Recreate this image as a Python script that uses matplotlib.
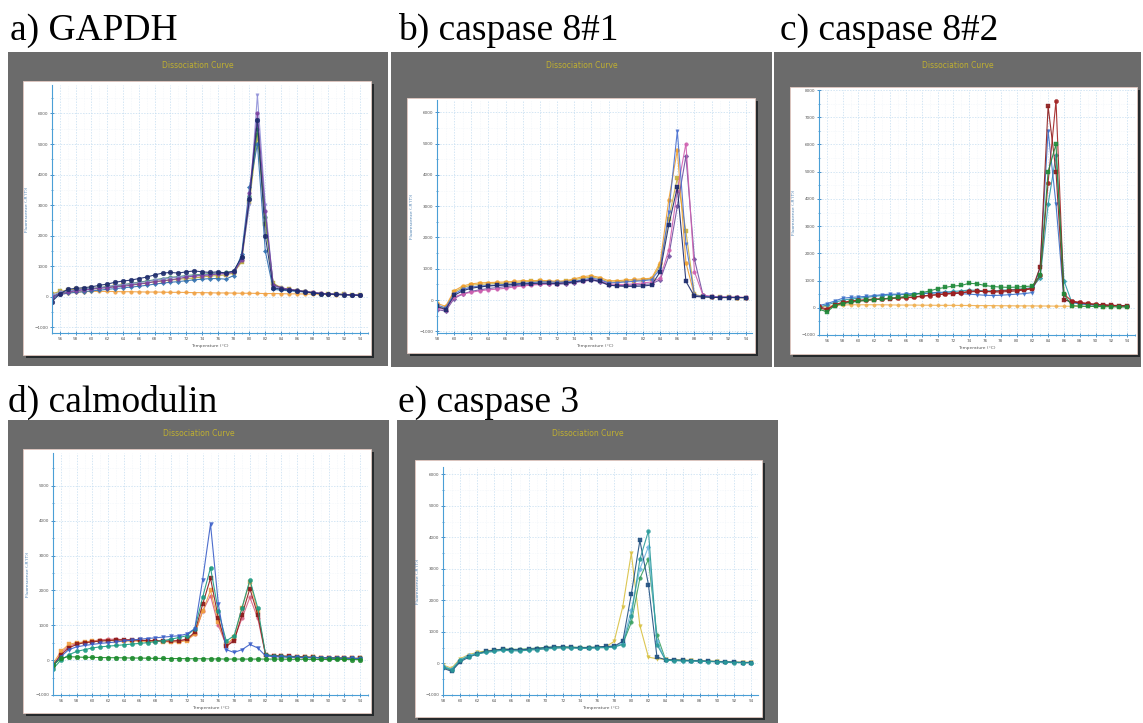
import matplotlib.pyplot as plt
import numpy as np
from matplotlib.patches import Rectangle
from matplotlib.ticker import MultipleLocator

# temperature steps (degC)
x_wide = list(range(55, 95))    # panels a, c, d
x_short = list(range(58, 95))   # panels b, e

# ---- a) GAPDH : -R'(T) per well ----
a_navy = [-150, 100, 250, 280, 300, 330, 380, 420, 480, 520, 550, 600, 650, 720, 780, 800, 780, 820, 850, 820,
          800, 820, 780, 850, 1300, 3200, 5800, 2000, 300, 250, 220, 200, 170, 130, 100, 90, 80, 70, 60, 50]
a_purple = [0, 100, 150, 200, 230, 250, 280, 300, 330, 350, 380, 420, 450, 500, 530, 560, 600, 650, 680, 700,
            720, 750, 760, 800, 1200, 3400, 6000, 2800, 400, 300, 250, 220, 180, 150, 120, 100, 90, 80, 70, 60]
a_lavender = [50, 150, 200, 220, 250, 280, 300, 330, 380, 400, 430, 470, 500, 550, 580, 620, 650, 680, 700, 720,
              740, 760, 780, 820, 1250, 3000, 6600, 3000, 350, 280, 240, 200, 170, 140, 110, 100, 90, 80, 70, 60]
a_olive = [100, 180, 220, 250, 260, 280, 300, 320, 350, 380, 400, 430, 460, 500, 520, 550, 580, 600, 620, 650,
           680, 700, 720, 780, 1150, 3100, 5300, 2400, 450, 300, 250, 200, 170, 140, 110, 100, 90, 80, 70, 60]
a_blue = [-50, 80, 120, 150, 170, 200, 220, 250, 270, 300, 320, 350, 380, 420, 450, 480, 500, 530, 560, 580,
          600, 600, 580, 700, 1400, 3600, 5000, 1500, 250, 220, 200, 180, 160, 130, 110, 90, 80, 70, 60, 50]
a_green = [20, 120, 180, 220, 250, 270, 300, 340, 370, 400, 440, 480, 520, 560, 600, 640, 660, 700, 720, 740,
           760, 780, 800, 830, 1300, 3300, 5500, 2600, 400, 280, 240, 210, 180, 140, 110, 100, 90, 80, 70, 60]
a_ntc = [0, 80, 130, 160, 170, 180, 180, 180, 175, 170, 170, 165, 160, 160, 155, 150, 150, 145, 140, 140,
         135, 130, 130, 125, 120, 120, 115, 110, 110, 105, 100, 100, 95, 90, 85, 80, 75, 70, 65, 60]

# ---- b) caspase 8#1 ----
b_navy = [-200, -300, 150, 300, 380, 420, 450, 470, 480, 500, 520, 530, 540, 540, 530, 550, 580, 620, 650,
          600, 480, 450, 440, 440, 450, 480, 900, 2400, 3600, 600, 120, 100, 90, 80, 80, 80, 80]
b_blue = [-150, -250, 200, 350, 420, 450, 470, 480, 500, 520, 540, 560, 580, 580, 570, 580, 600, 650, 700,
          650, 550, 560, 580, 600, 620, 650, 1000, 2800, 5400, 1800, 150, 120, 100, 90, 90, 80, 80]
b_pink = [-250, -300, 100, 200, 250, 300, 330, 350, 380, 420, 450, 480, 500, 520, 530, 550, 580, 620, 660,
          620, 520, 500, 500, 520, 550, 580, 700, 1600, 3500, 5000, 900, 150, 120, 100, 100, 90, 90]
b_orange = [-100, -200, 300, 450, 520, 550, 560, 570, 580, 600, 620, 620, 630, 620, 600, 620, 680, 750, 780,
            720, 620, 620, 640, 660, 680, 700, 1200, 3200, 4800, 1200, 150, 120, 100, 90, 90, 80, 80]
b_yellow = [-200, -250, 250, 400, 480, 500, 520, 530, 540, 560, 580, 600, 600, 590, 580, 600, 650, 700, 740,
            680, 580, 580, 600, 620, 640, 680, 1100, 2600, 3900, 2200, 180, 120, 100, 90, 90, 80, 80]
b_purple = [-300, -350, 50, 200, 280, 330, 370, 400, 430, 460, 480, 500, 520, 520, 510, 520, 560, 600, 640,
            580, 480, 470, 470, 480, 500, 520, 650, 1400, 3000, 4600, 1300, 150, 110, 100, 90, 90, 80]

# ---- c) caspase 8#2 ----
c_red1 = [0, -80, 100, 180, 220, 250, 270, 300, 320, 340, 360, 380, 400, 430, 460, 480, 500, 520, 550, 580,
          600, 600, 580, 580, 600, 620, 650, 700, 1500, 7400, 5000, 300, 220, 180, 150, 120, 100, 90, 80, 70]
c_red2 = [50, -50, 120, 200, 250, 280, 300, 320, 330, 350, 360, 370, 380, 420, 450, 480, 520, 540, 560, 600,
          620, 600, 600, 620, 640, 660, 680, 720, 1200, 4600, 7600, 500, 250, 200, 160, 130, 110, 90, 80, 70]
c_green = [-50, -150, 80, 150, 200, 240, 280, 300, 320, 350, 380, 420, 480, 550, 620, 700, 750, 800, 820, 900,
           880, 820, 780, 760, 750, 760, 780, 800, 1200, 5000, 6000, 500, 80, 60, 50, 50, 40, 40, 30, 30]
c_blue = [80, 150, 250, 350, 380, 400, 420, 450, 480, 500, 500, 510, 520, 530, 540, 550, 550, 540, 520, 500,
          480, 460, 450, 460, 480, 500, 520, 560, 1500, 6500, 3800, 300, 200, 150, 120, 100, 90, 80, 70, 60]
c_teal = [30, 100, 200, 280, 320, 350, 380, 420, 450, 470, 480, 490, 500, 520, 540, 560, 580, 600, 620, 650,
          640, 620, 620, 640, 660, 680, 700, 750, 1100, 3800, 5600, 1000, 200, 150, 120, 100, 90, 80, 70, 60]
c_ntc = [30, 60, 80, 100, 110, 110, 110, 110, 110, 105, 100, 100, 100, 95, 95, 90, 90, 90, 85, 85,
         80, 80, 80, 75, 75, 70, 70, 70, 65, 65, 60, 60, 55, 55, 50, 50, 45, 45, 40, 40]

# ---- d) calmodulin ----
d_blue = [-150, 100, 300, 380, 420, 450, 480, 500, 520, 550, 570, 600, 620, 640, 660, 680, 700, 750, 900, 2300,
          3900, 1600, 300, 220, 300, 450, 350, 120, 100, 90, 80, 80, 70, 70, 60, 60, 50, 50, 50, 40]
d_teal = [-250, 0, 150, 250, 300, 350, 380, 400, 420, 440, 460, 480, 500, 530, 560, 600, 650, 700, 900, 1800,
          2650, 1400, 550, 700, 1500, 2300, 1500, 150, 120, 110, 100, 90, 80, 80, 70, 70, 60, 60, 50, 50]
d_red = [-150, 150, 350, 450, 500, 520, 550, 560, 580, 580, 580, 570, 560, 560, 550, 550, 560, 600, 800, 1600,
         2350, 1200, 400, 550, 1300, 2050, 1300, 150, 130, 120, 110, 100, 90, 80, 70, 70, 60, 60, 50, 50]
d_orange = [-100, 250, 450, 500, 520, 540, 550, 560, 560, 550, 550, 540, 540, 540, 530, 520, 520, 560, 750, 1400,
            2000, 1100, 450, 650, 1500, 2250, 1400, 150, 120, 110, 100, 90, 90, 80, 70, 70, 60, 60, 50, 50]
d_pink = [-200, 200, 400, 480, 520, 550, 580, 600, 600, 590, 580, 570, 560, 550, 540, 540, 550, 580, 760, 1400,
          1850, 1000, 420, 600, 1200, 1800, 1200, 140, 120, 110, 100, 90, 80, 80, 70, 60, 60, 50, 50, 40]
d_ntc = [-150, 50, 100, 90, 80, 80, 75, 70, 70, 65, 60, 60, 55, 50, 50, 45, 45, 40, 40, 40,
         35, 35, 30, 30, 30, 30, 30, 30, 30, 30, 25, 25, 25, 20, 20, 20, 20, 20, 15, 15]

# ---- e) caspase 3 ----
e_teal = [-100, -200, 100, 220, 300, 350, 380, 420, 400, 400, 420, 440, 460, 480, 500, 500, 480, 480, 500,
          500, 520, 600, 1500, 3300, 4200, 600, 100, 90, 80, 80, 70, 60, 50, 40, 30, 20, 20]
e_navy = [-150, -250, 50, 200, 300, 380, 420, 450, 440, 430, 450, 470, 500, 520, 520, 510, 500, 500, 520,
          540, 550, 700, 2200, 3900, 2500, 200, 120, 110, 100, 90, 80, 70, 60, 50, 40, 30, 30]
e_yellow = [-50, -150, 150, 280, 350, 400, 430, 450, 430, 420, 440, 460, 480, 500, 500, 490, 480, 490, 510,
            530, 700, 1800, 3500, 1200, 200, 150, 130, 120, 110, 100, 90, 80, 70, 60, 50, 40, 40]
e_green = [-120, -220, 80, 250, 330, 380, 420, 460, 450, 450, 470, 490, 510, 530, 530, 520, 510, 510, 520,
           530, 540, 620, 1300, 2700, 3300, 900, 120, 110, 100, 90, 80, 70, 60, 50, 40, 30, 30]
e_light = [-80, -180, 120, 260, 320, 360, 400, 430, 420, 420, 440, 460, 480, 500, 500, 490, 480, 480, 500,
           510, 520, 650, 1700, 3000, 3700, 700, 110, 100, 90, 80, 80, 70, 60, 50, 40, 30, 30]

W, H = 1143, 723
GREY = '#6b6b6b'
AXBLUE = '#4a9fd6'

panels = [
    dict(title='a) GAPDH', tpos=(10, 40), grey=(8, 52, 388, 366), white=(23, 81, 371, 355),
         ax=(52, 85, 368, 333), xlim=(55, 95), ylim=(-1180, 6930), xt0=56, x=x_wide,
         series=[(a_ntc, '#f0a040', 'o', 2.6), (a_olive, '#b8a83a', 's', 2.6), (a_green, '#2a8a50', 'o', 2.6),
                 (a_blue, '#3070b0', 'D', 2.2), (a_lavender, '#9090d8', 'v', 2.4),
                 (a_purple, '#7a3fa0', 'o', 2.6), (a_navy, '#1c2a6b', 'o', 3.4)]),
    dict(title='b) caspase 8#1', tpos=(398, 40), grey=(391, 52, 772, 367), white=(407, 98, 755, 353),
         ax=(437, 100, 752, 333), xlim=(58, 94.7), ylim=(-1050, 6390), xt0=58, x=x_short,
         series=[(b_yellow, '#c8b040', 's', 2.6), (b_orange, '#f0a030', 'o', 2.8), (b_purple, '#7050a0', 'D', 2.4),
                 (b_pink, '#d060b0', 'o', 2.6), (b_blue, '#4a70d0', 'v', 2.4), (b_navy, '#1c2a6b', 's', 2.8)]),
    dict(title='c) caspase 8#2', tpos=(780, 40), grey=(774, 52, 1141, 367), white=(790, 87, 1137, 354),
         ax=(819, 90, 1135, 335), xlim=(55, 95), ylim=(-910, 8000), xt0=56, x=x_wide,
         series=[(c_ntc, '#f0b050', 'o', 2.4), (c_teal, '#2a9aa8', 'D', 2.4), (c_blue, '#3a6ec8', 'v', 2.6),
                 (c_red1, '#8b1a1a', 's', 3.0), (c_red2, '#a02020', 'o', 3.0), (c_green, '#1f8a3a', 's', 3.4)]),
    dict(title='d) calmodulin', tpos=(8, 412), grey=(8, 420, 389, 723), white=(23, 449, 371, 713),
         ax=(53, 453, 368, 695), xlim=(55, 95), ylim=(-1000, 5940), xt0=56, x=x_wide,
         series=[(d_pink, '#d86080', 'o', 2.6), (d_orange, '#f0a040', 's', 2.8), (d_red, '#8b1a1a', 's', 3.0),
                 (d_teal, '#1a9a80', 'o', 3.0), (d_blue, '#3a5ec8', 'v', 2.8), (d_ntc, '#1a8a2a', 'o', 3.4)]),
    dict(title='e) caspase 3', tpos=(398, 412), grey=(397, 420, 778, 723), white=(415, 460, 762, 717),
         ax=(443, 467, 758, 695), xlim=(58, 94.8), ylim=(-1000, 6230), xt0=58, x=x_short,
         series=[(e_yellow, '#d8c040', 'v', 2.6), (e_green, '#3aa060', 'o', 2.6), (e_light, '#70b8e0', 'D', 2.4),
                 (e_navy, '#1f4f80', 's', 2.6), (e_teal, '#2a9a9a', 'o', 2.8)]),
]


def rect(x0, y0, x1, y1, **kw):
    return Rectangle((x0 / W, 1 - y1 / H), (x1 - x0) / W, (y1 - y0) / H,
                     transform=fig.transFigure, **kw)


fig = plt.figure(figsize=(W / 100, H / 100), dpi=100)
fig.patch.set_facecolor('white')

for p in panels:
    gx0, gy0, gx1, gy1 = p['grey']
    fig.add_artist(rect(gx0, gy0, gx1, gy1, facecolor=GREY, edgecolor='none', zorder=-5))
    wx0, wy0, wx1, wy1 = p['white']
    fig.add_artist(rect(wx0 + 3, wy0 + 3, wx1 + 3, wy1 + 3, facecolor='#262a2c', edgecolor='none', zorder=-4))
    fig.add_artist(rect(wx0, wy0, wx1, wy1, facecolor='white', edgecolor='#e2c8c0', lw=0.6, zorder=-3))
    fig.text((gx0 + gx1) / 2 / W, 1 - (gy0 + 13) / H, 'Dissociation Curve', color='#c0b030',
             fontsize=5.5, ha='center', va='center')
    fig.text(p['tpos'][0] / W, 1 - p['tpos'][1] / H, p['title'], fontsize=27,
             family='Liberation Serif', va='baseline', ha='left')

    ax0, ay0, ax1, ay1 = p['ax']
    ax = fig.add_axes([ax0 / W, 1 - ay1 / H, (ax1 - ax0) / W, (ay1 - ay0) / H])
    ax.set_facecolor('none')
    for vals, col, mk, ms in p['series']:
        ax.plot(p['x'], vals, color=col, lw=0.8, marker=mk, ms=ms, mew=0.3, mec=col, alpha=0.9)
    ax.set_xlim(*p['xlim'])
    ax.set_ylim(*p['ylim'])
    ax.set_xticks(np.arange(p['xt0'], 95, 2))
    ax.xaxis.set_minor_locator(MultipleLocator(1))
    ax.set_yticks(np.arange(-1000, p['ylim'][1] + 1, 1000))
    ax.yaxis.set_minor_locator(MultipleLocator(500))
    ax.grid(True, which='major', color='#c2dcf0', lw=0.5, ls=(0, (2, 2)))
    ax.grid(True, which='minor', color='#e6eff7', lw=0.4, ls=(0, (1, 2)))
    ax.set_axisbelow(True)
    for s in ('top', 'right'):
        ax.spines[s].set_visible(False)
    for s in ('left', 'bottom'):
        ax.spines[s].set_color(AXBLUE)
        ax.spines[s].set_linewidth(0.8)
    ax.tick_params(which='major', length=2.5, width=0.6, color='#2f7fc0', direction='inout',
                   labelsize=3, labelcolor='#555555', pad=1.5)
    ax.tick_params(which='minor', length=1.5, width=0.5, color='#2f7fc0', direction='inout')
    ax.set_xlabel('Temperature (\u00b0C)', fontsize=3.2, color='#555555', labelpad=2)
    ax.set_ylabel("Fluorescence (-R'(T))", fontsize=3.2, color='#4a7fb0', labelpad=4)

fig.savefig('out.png', dpi=100)
